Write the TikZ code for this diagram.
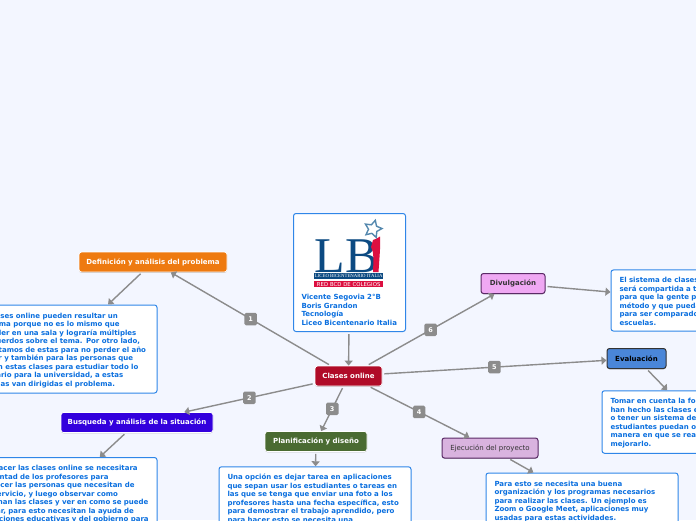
\documentclass[tikz,border=0pt]{standalone}
\usepackage{fontspec}
\setmainfont{DejaVu Sans}
\newfontfamily\logofont{Liberation Serif}
\usepackage{tikz}
\usetikzlibrary{positioning}
\usetikzlibrary{arrows.meta}
\usetikzlibrary{shapes.geometric}
\usetikzlibrary{shadows}
\definecolor{bgblue}{HTML}{F3F6FF}
\definecolor{boxblue}{HTML}{2F86E8}
\definecolor{txtblue}{HTML}{0A6FDF}
\definecolor{linegray}{HTML}{8C8C8C}
\definecolor{logoblue}{HTML}{0C4A82}
\definecolor{logored}{HTML}{DC0F40}
\definecolor{logostarblue}{HTML}{5488AE}
\definecolor{centralred}{HTML}{B00B28}
\definecolor{deforange}{HTML}{EE7A10}
\definecolor{searchblue}{HTML}{3300DD}
\definecolor{plangreen}{HTML}{4A6B32}
\definecolor{execpurple}{HTML}{D9B3DF}
\definecolor{evalblue}{HTML}{4A86D8}
\definecolor{divulpink}{HTML}{EFA8F3}
\definecolor{darkpurple}{HTML}{5A2A66}
\tikzset{
    keynode/.style={draw=white, line width=0.8pt, rounded corners=2.5pt, text=white, font=\fontsize{7}{8.5}\selectfont\bfseries, inner sep=0pt, minimum height=20pt, drop shadow={shadow xshift=0pt, shadow yshift=-0.8pt, opacity=0.45}},
    darknode/.style={keynode, line width=1pt, text=black},
    textbox/.style={draw=boxblue, fill=white, line width=1pt, rounded corners=2.5pt, text=txtblue, font=\fontsize{7}{8.5}\selectfont\bfseries, align=left, text width=175pt, inner xsep=8.5pt, inner ysep=5.5pt, execute at begin node={\rule{0pt}{7.5pt}}},
    link/.style={draw=linegray, line width=1.4pt, -{Triangle[length=5pt, width=8pt]}, shorten <=2pt},
    badge/.style={fill=linegray, rounded corners=1.5pt, text=white, font=\fontsize{6.5}{7}\selectfont\bfseries, minimum size=12.5pt, inner sep=0pt},
}

\begin{document}
\begin{tikzpicture}[x=1pt, y=-1pt, on grid]
    \fill[bgblue] (0,0) rectangle (696,520);
    \useasboundingbox (0,0) rectangle (696,520);
    \clip (0,0) rectangle (696,520);

    \node [keynode, fill=centralred, minimum width=67pt] (central) at (348.5,376) {Clases online};

    % the logo box
    \node [textbox, text width=96pt, inner xsep=8pt, minimum height=118pt, anchor=north west] (logobox) at (293,213) {\vspace{64pt}\\Vicente Segovia 2°B\\Boris Grandon\\Tecnología\\Liceo Bicentenario Italia};
    \node [font=\fontsize{50}{50}\selectfont\logofont, text=logoblue, inner sep=0pt, anchor=base west] (lb) at (314.5,272) {LB};
    \fill[logored] (373,240) .. controls (376,239) and (378,238) .. (380,236.5) .. controls (380.5,245) and (380,250) .. (378.5,272) -- (373,272) .. controls (373.5,260) and (374,252) .. (371,247) -- cycle;
    \node [star, star points=5, star point ratio=2, draw=logostarblue, line width=1.4pt, minimum size=18pt, inner sep=0pt, rotate=-15] (logostar) at (373,229) {};
    \node [fill=logoblue, text=white, font=\fontsize{4.8}{6}\logofont\selectfont, minimum width=69pt, minimum height=6pt, inner sep=0pt, anchor=north west] (band1) at (314,273) {LICEO BICENTENARIO ITALIA};
    \node [fill=logored, text=white, font=\fontsize{5.4}{6}\selectfont, minimum width=69pt, minimum height=6pt, inner sep=0pt, anchor=north west] (band2) at (314,281) {RED BCD DE COLEGIOS};

    % first level
    \node [keynode, fill=deforange, minimum width=148pt, above left=114pt and 195.5pt of central] (def) {Definición y análisis del problema};
    \node [keynode, fill=searchblue, minimum width=152pt, below left=46.5pt and 211.5pt of central] (search) {Busqueda y análisis de la situación};
    \node [keynode, fill=plangreen, minimum width=102pt, below left=65.5pt and 32.5pt of central] (plan) {Planificación y diseño};
    \node [darknode, draw=darkpurple, fill=execpurple, minimum width=96pt, below right=72pt and 141.5pt of central, font=\fontsize{7}{8.5}\selectfont, text=black!80] (exec) {Ejecución del proyecto};
    \node [darknode, draw=black!80, fill=evalblue, minimum width=59pt, above right=17.5pt and 288pt of central] (eval) {Evaluación};
    \node [darknode, draw=darkpurple, fill=divulpink, minimum width=64pt, above right=92.5pt and 164.5pt of central, text=black!80] (divul) {Divulgación};

    % the texts
    \node [textbox, below left=87pt and 92pt of def] (deftext) {Las clases online pueden resultar un\\problema porque no es lo mismo que\\aprender en una sala y lograría múltiples\\desacuerdos sobre el tema. Por otro lado,\\necesitamos de estas para no perder el año\\escolar y también para las personas que\\usarían estas clases para estudiar todo lo\\necesario para la universidad, a estas\\personas van dirigidas el problema.};
    \node [textbox, below left=70.5pt and 76pt of search] (searchtext) {Para hacer las clases online se necesitara\\la voluntad de los profesores para\\reconocer las personas que necesitan de\\este servicio, y luego observar como\\funcionan las clases y ver en como se puede\\mejorar, para esto necesitan la ayuda de\\\mbox{instituciones educativas y del gobierno para}};
    \node [textbox, below left=56.5pt and 1pt of plan] (plantext) {Una opción es dejar tarea en aplicaciones\\que sepan usar los estudiantes o tareas en\\las que se tenga que enviar una foto a los\\profesores hasta una fecha específica, esto\\para demostrar el trabajo aprendido, pero\\para hacer esto se necesita una};
    \node [textbox, below right=52pt and 92pt of exec] (exectext) {Para esto se necesita una buena\\organización y los programas necesarios\\para realizar las clases. Un ejemplo es\\Zoom o Google Meet, aplicaciones muy\\usadas para estas actividades.};
    \node [textbox, below right=63.5pt and 61.5pt of eval] (evaltext) {Tomar en cuenta la forma en que se\\han hecho las clases en otro lado\\o tener un sistema de que los\\estudiantes puedan opinar sobre la\\manera en que se realizan para\\mejorarlo.};
    \node [textbox, below right=17pt and 194pt of divul] (divultext) {El sistema de clases online\\será compartida a todos\\para que la gente pueda ver el\\método y que pueda servir\\para ser comparado con otras\\escuelas.};

    \draw [link] (logobox) -- (central);
    \draw [link] (central) -- node[badge, midway] (b1) {1} (def);
    \draw [link] (central) -- node[badge, midway] (b2) {2} (search);
    \draw [link] (central) -- node[badge, midway] (b3) {3} (plan);
    \draw [link] (central) -- node[badge, midway] (b4) {4} (exec);
    \draw [link] (central) -- node[badge, midway] (b5) {5} (eval);
    \draw [link] (central) -- node[badge, midway] (b6) {6} (divul);

    \draw [link] (def) -- (deftext);
    \draw [link] (search) -- (searchtext);
    \draw [link] (plan) -- (plantext);
    \draw [link] (exec) -- (exectext);
    \draw [link] (eval) -- (evaltext);
    \draw [link] (divul) -- (divultext);
\end{tikzpicture}
\end{document}
